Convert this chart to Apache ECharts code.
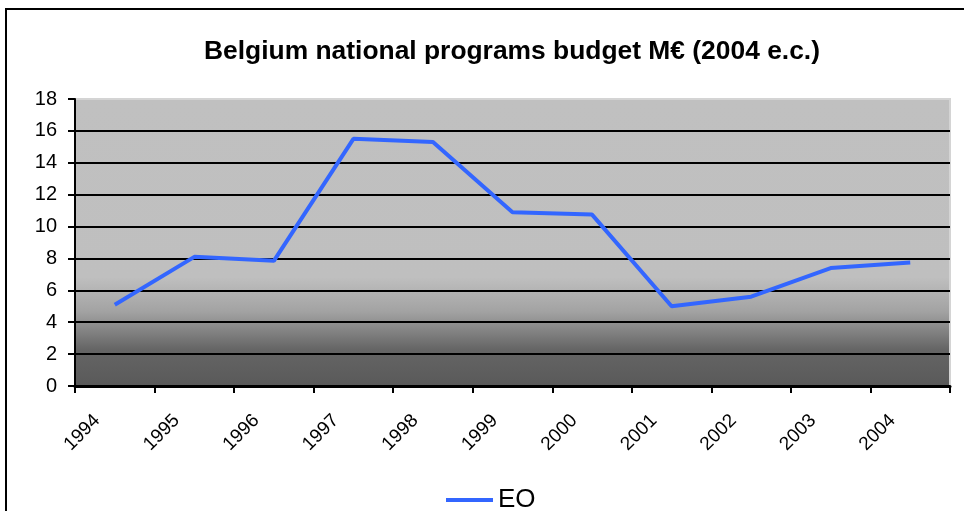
<!DOCTYPE html>
<html>
<head>
<meta charset="utf-8">
<script src="https://cdn.jsdelivr.net/npm/echarts@6/dist/echarts.min.js"></script>
<style>
html,body{margin:0;padding:0;background:#fff;overflow:hidden;}
#frame{position:absolute;left:5px;top:8px;width:1200px;height:800px;border-left:2px solid #000;border-top:2px solid #000;box-sizing:border-box;}
#chart{position:absolute;left:0;top:0;width:964px;height:511px;}
</style>
</head>
<body>
<div id="frame"></div>
<div id="chart"></div>
<script>
var titleText = 'Belgium national programs budget M€ (2004 e.c.)';
var years = ['1994','1995','1996','1997','1998','1999','2000','2001','2002','2003','2004'];
var seriesName = 'EO';
var eoValues = [5.1, 8.1, 7.85, 15.5, 15.3, 10.9, 10.75, 5.0, 5.6, 7.4, 7.75];
var yMin = 0, yMax = 18, yStep = 2;

var FONT = '"Liberation Sans", Arial, sans-serif';
var chart = echarts.init(document.getElementById('chart'), null, {renderer: 'canvas'});
chart.setOption({
  backgroundColor: 'transparent',
  animation: false,
  textStyle: {fontFamily: FONT, color: '#000'},
  title: {
    text: titleText,
    left: 507,
    top: 34,
    textAlign: 'center',
    textStyle: {fontFamily: FONT, fontSize: 26.4, fontWeight: 'bold', color: '#000'}
  },
  legend: {
    data: [seriesName],
    left: 441,
    top: 482,
    icon: 'rect',
    itemWidth: 47,
    itemHeight: 4,
    itemGap: 10,
    textStyle: {fontFamily: FONT, fontSize: 26, color: '#000'}
  },
  grid: {
    left: 75, right: 14, top: 99, bottom: 125,
    show: true,
    borderColor: '#d4d4d4',
    borderWidth: 2,
    backgroundColor: {
      type: 'linear', x: 0, y: 0, x2: 0, y2: 1,
      colorStops: [
        {offset: 0, color: '#c0c0c0'},
        {offset: 0.62, color: '#bfbfbf'},
        {offset: 0.74, color: '#a2a2a2'},
        {offset: 0.87, color: '#656565'},
        {offset: 1, color: '#595959'}
      ]
    }
  },
  xAxis: {
    type: 'category',
    data: years,
    boundaryGap: true,
    axisLine: {show: true, lineStyle: {color: '#000', width: 3}},
    axisTick: {show: true, interval: 0, length: 7, lineStyle: {color: '#000', width: 2}},
    axisLabel: {
      interval: 0, rotate: 45, margin: 14,
      padding: [0, 25, 0, 0],
      fontFamily: FONT, fontSize: 19, color: '#000'
    },
    splitLine: {show: false}
  },
  yAxis: {
    type: 'value',
    min: yMin, max: yMax, interval: yStep,
    axisLine: {show: true, lineStyle: {color: '#000', width: 2}},
    axisTick: {show: true, length: 7, lineStyle: {color: '#000', width: 2}},
    axisLabel: {margin: 18, fontFamily: FONT, fontSize: 20, color: '#000'},
    splitLine: {show: true, showMinLine: false, showMaxLine: false, lineStyle: {color: '#000', width: 2}}
  },
  series: [{
    name: seriesName,
    type: 'line',
    data: eoValues,
    symbol: 'none',
    showSymbol: false,
    lineStyle: {color: '#3366ff', width: 4},
    itemStyle: {color: '#3366ff'}
  }]
});
</script>
</body>
</html>
